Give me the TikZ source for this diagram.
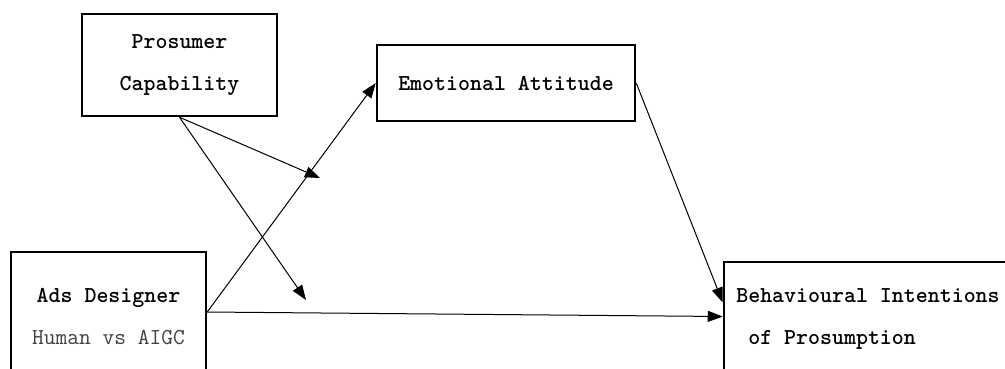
\documentclass[tikz,border=0pt]{standalone}
\usepackage{fontspec}
\usetikzlibrary{arrows.meta}
\tikzset{
  box/.style={draw,line width=2.5pt,align=center,inner sep=0pt,
              font=\fontsize{22.8}{42}\selectfont\ttfamily\bfseries},
  arr/.style={-{Triangle[length=15pt,width=11pt]},line width=1pt},
}
\begin{document}
\begin{tikzpicture}[x=1pt,y=-1pt]
\useasboundingbox (0,0) rectangle (1005,368);
\clip (0,0) rectangle (1005,368);

%% ---------- boxes ----------
\node[box,minimum width=195pt,minimum height=102pt] (pc) at (179.5,65)
  {Prosumer\\Capability};
\node[box,minimum width=258pt,minimum height=76pt] (ea) at (506,83)
  {Emotional Attitude};
\node[box,minimum width=195pt,minimum height=130pt] (ad) at (108.5,317)
  {Ads Designer\\{\mdseries\color{black!75}Human vs AIGC}};
\node[box,minimum width=288pt,minimum height=113pt,align=left] (bi) at (868,318.5)
  {Behavioural Intentions\\~of Prosumption};

%% moderation targets on the paths
\coordinate (m1) at (320,178);
\coordinate (m2) at (306,300);

%% main paths
\draw[arr] ([yshift=5pt]ad.east) -- (ea.west);
\draw[arr] ([yshift=5pt]ad.east) -- ([yshift=2pt]bi.west);
\draw[arr] (ea.east) -- ([yshift=16pt]bi.west);

%% moderation arrows
\draw[arr] (pc.south) -- (m1);
\draw[arr] (pc.south) -- (m2);
\end{tikzpicture}
\end{document}
